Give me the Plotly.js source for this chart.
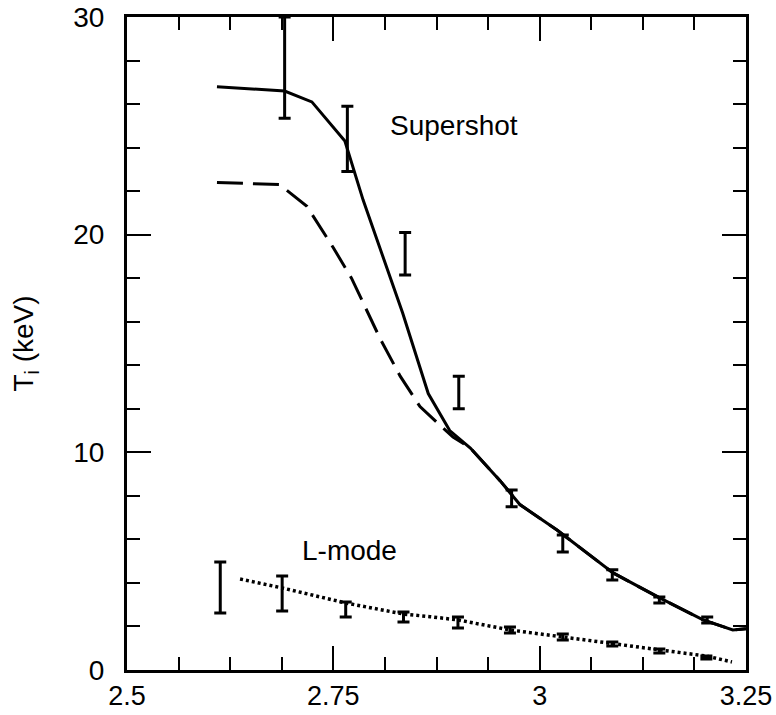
<!DOCTYPE html>
<html>
<head>
<meta charset="utf-8">
<script src="https://cdn.plot.ly/plotly-3.0.1.min.js"></script>
<style>html,body{margin:0;padding:0;background:#fff;}#chart{width:776px;height:715px;}</style>
</head>
<body>
<div id="chart"></div>
<script>
// Supershot model curve (solid)
const superSolidX = [2.609, 2.691, 2.724, 2.764, 2.786, 2.810, 2.834, 2.865, 2.891, 2.916, 2.952, 2.976, 3.021, 3.089, 3.146, 3.198, 3.234, 3.25];
const superSolidY = [26.8, 26.6, 26.1, 24.3, 21.6, 19.0, 16.4, 12.7, 11.0, 10.2, 8.7, 7.6, 6.43, 4.46, 3.3, 2.3, 1.84, 1.9];
// Supershot model curve (dashed)
const superDashX = [2.609, 2.685, 2.718, 2.75, 2.772, 2.807, 2.831, 2.855, 2.879, 2.895, 2.916, 2.952, 2.976, 3.021, 3.089, 3.146, 3.198, 3.234, 3.25];
const superDashY = [22.4, 22.3, 21.3, 19.4, 18.0, 15.2, 13.5, 12.1, 11.25, 10.7, 10.2, 8.7, 7.6, 6.43, 4.46, 3.3, 2.3, 1.84, 1.9];
// Supershot measured ranges
const superErrX = [2.691, 2.767, 2.837, 2.902, 2.966, 3.028, 3.088, 3.145, 3.203];
const superErrLo = [25.35, 22.9, 18.15, 12.0, 7.5, 5.42, 4.13, 3.08, 2.16];
const superErrHi = [30.0, 25.9, 20.1, 13.5, 8.27, 6.2, 4.6, 3.35, 2.43];
// L-mode model curve (dotted)
const lmodeX = [2.637, 2.688, 2.765, 2.835, 2.867, 2.901, 2.964, 3.028, 3.088, 3.145, 3.202, 3.233];
const lmodeY = [4.18, 3.77, 3.08, 2.57, 2.45, 2.3, 1.84, 1.52, 1.24, 0.92, 0.64, 0.37];
// L-mode measured ranges
const lmodeErrX = [2.613, 2.688, 2.765, 2.835, 2.901, 2.964, 3.028, 3.088, 3.145, 3.202];
const lmodeErrLo = [2.62, 2.71, 2.43, 2.2, 1.93, 1.7, 1.38, 1.1, 0.78, 0.5];
const lmodeErrHi = [4.96, 4.32, 3.12, 2.66, 2.43, 1.98, 1.65, 1.29, 0.96, 0.64];
// Axis ticks
const xTickVals = [2.5, 2.75, 3, 3.25];
const xTickText = ['2.5', '2.75', '3', '3.25'];
const yTickVals = [0, 10, 20, 30];
const yTickText = ['0', '10', '20', '30'];

function errTrace(xs, lo, hi) {
  return {
    x: xs,
    y: xs.map((_, i) => (lo[i] + hi[i]) / 2),
    mode: 'markers',
    marker: {size: 1, color: 'rgba(0,0,0,0)'},
    error_y: {type: 'data', symmetric: true, array: xs.map((_, i) => (hi[i] - lo[i]) / 2),
              color: '#000', thickness: 3, width: 6},
    hoverinfo: 'skip', cliponaxis: false
  };
}

const FONT = 'Liberation Sans, Arial, Helvetica, sans-serif';
const data = [
  {x: superSolidX, y: superSolidY, mode: 'lines', line: {color: '#000', width: 3}},
  {x: superDashX, y: superDashY, mode: 'lines', line: {color: '#000', width: 3, dash: '26px,10px'}},
  {x: lmodeX, y: lmodeY, mode: 'lines', line: {color: '#000', width: 3.5, dash: '3px,3px'}},
  errTrace(superErrX, superErrLo, superErrHi),
  errTrace(lmodeErrX, lmodeErrLo, lmodeErrHi)
];

const layout = {
  width: 776, height: 715,
  margin: {l: 127, r: 30, t: 17, b: 45},
  paper_bgcolor: '#fff', plot_bgcolor: '#fff',
  showlegend: false,
  font: {family: FONT, size: 28, color: '#000'},
  xaxis: {
    range: [2.5, 3.25], tickvals: xTickVals, ticktext: xTickText,
    ticks: 'inside', ticklen: 24, tickwidth: 2, tickcolor: '#000',
    showline: true, linewidth: 3, linecolor: '#000', mirror: 'allticks',
    showgrid: false, zeroline: false, automargin: false,
    ticklabelstandoff: 0,
    tickfont: {family: FONT, size: 27, color: '#000'},
    minor: {dtick: 0.0625, tick0: 2.5, ticks: 'inside', ticklen: 13, tickwidth: 2, tickcolor: '#000', showgrid: false}
  },
  yaxis: {
    range: [0, 30], tickvals: yTickVals, ticktext: yTickText,
    ticks: 'inside', ticklen: 24, tickwidth: 2, tickcolor: '#000',
    showline: true, linewidth: 3, linecolor: '#000', mirror: 'allticks',
    showgrid: false, zeroline: false, automargin: false,
    ticklabelstandoff: 14,
    tickfont: {family: FONT, size: 28, color: '#000'},
    minor: {dtick: 2, tick0: 0, ticks: 'inside', ticklen: 13, tickwidth: 2, tickcolor: '#000', showgrid: false},
    title: {text: 'T<sub>i</sub> (keV)', font: {family: FONT, size: 28, color: '#000'}, standoff: 32}
  },
  annotations: [
    {x: 2.896, y: 25.0, xref: 'x', yref: 'y', text: 'Supershot', showarrow: false, font: {family: FONT, size: 28, color: '#000'}},
    {x: 2.77, y: 5.5, xref: 'x', yref: 'y', text: 'L-mode', showarrow: false, font: {family: FONT, size: 28, color: '#000'}}
  ]
};

Plotly.newPlot('chart', data, layout, {displayModeBar: false, staticPlot: true});
</script>
</body>
</html>
